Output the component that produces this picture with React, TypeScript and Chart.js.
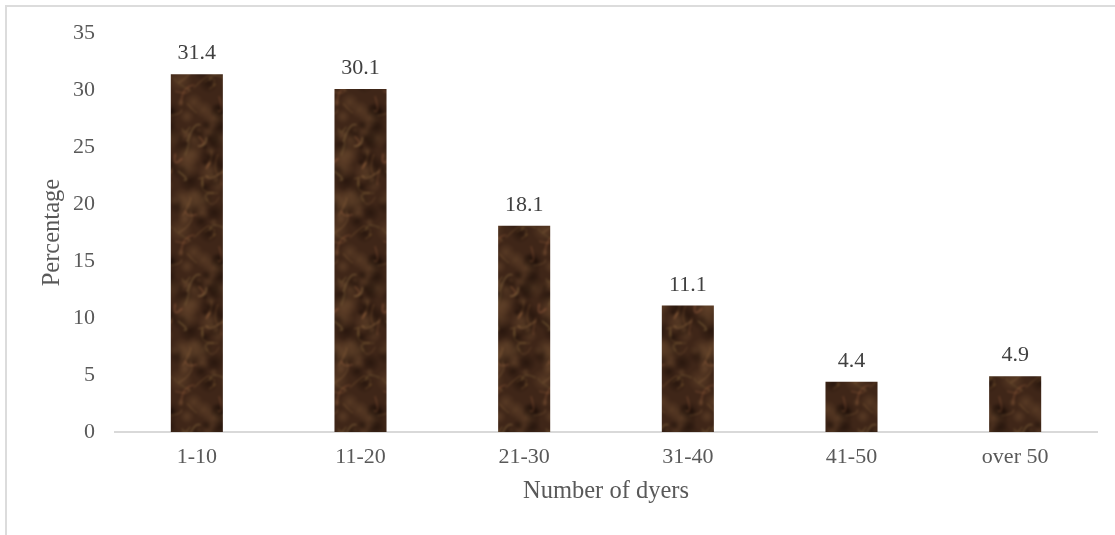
import React, { useEffect, useRef } from "react";
import { Chart, registerables } from "chart.js";

Chart.register(...registerables);

const categories = ["1-10", "11-20", "21-30", "31-40", "41-50", "over 50"];
const percentages = [31.4, 30.1, 18.1, 11.1, 4.4, 4.9];
const yTicks = [0, 5, 10, 15, 20, 25, 30, 35];

const xTitle = "Number of dyers";
const yTitle = "Percentage";

const FONT = "'Liberation Serif', 'Times New Roman', serif";
const BASE_BROWN = "#3f2618";

// deterministic hash in [0,1) used for the marble texture
function hash(n: number): number {
  const s = Math.sin(n * 12.9898 + 78.233) * 43758.5453;
  return s - Math.floor(s);
}

// seamless brown marbled fill for the bars
function makeMarble(): CanvasPattern | string {
  const w = 52;
  const h = 150;
  const base = document.createElement("canvas");
  base.width = w;
  base.height = h;
  const g = base.getContext("2d");
  if (!g) return BASE_BROWN;
  g.fillStyle = BASE_BROWN;
  g.fillRect(0, 0, w, h);

  const offsets: [number, number][] = [];
  for (const dx of [-w, 0, w]) for (const dy of [-h, 0, h]) offsets.push([dx, dy]);

  // soft light and dark blotches, wrapped so the tile repeats cleanly
  for (let i = 0; i < 60; i++) {
    const x = hash(i * 3.1) * w;
    const y = hash(i * 7.7 + 1) * h;
    const r = 3 + hash(i * 5.3 + 2) * 10;
    const light = hash(i * 2.9 + 3) > 0.55;
    for (const [dx, dy] of offsets) {
      const cx = x + dx;
      const cy = y + dy;
      const grad = g.createRadialGradient(cx, cy, 0, cx, cy, r);
      if (light) {
        grad.addColorStop(0, "rgba(125,88,55,0.40)");
        grad.addColorStop(1, "rgba(125,88,55,0)");
      } else {
        grad.addColorStop(0, "rgba(22,10,5,0.55)");
        grad.addColorStop(1, "rgba(22,10,5,0)");
      }
      g.fillStyle = grad;
      g.fillRect(cx - r, cy - r, r * 2, r * 2);
    }
  }

  // thin pale swirling veins
  for (let i = 0; i < 30; i++) {
    const x0 = hash(i * 4.1 + 10) * w;
    const y0 = hash(i * 6.3 + 11) * h;
    const x1 = x0 + (hash(i * 1.7 + 12) - 0.5) * 36;
    const y1 = y0 + (hash(i * 2.3 + 13) - 0.5) * 44;
    const mx = (x0 + x1) / 2 + (hash(i * 8.1 + 14) - 0.5) * 26;
    const my = (y0 + y1) / 2 + (hash(i * 9.7 + 15) - 0.5) * 26;
    g.strokeStyle = `rgba(${165 + Math.round(hash(i + 20) * 40)},${
      120 + Math.round(hash(i + 21) * 30)
    },82,${0.2 + hash(i + 22) * 0.28})`;
    g.lineWidth = 0.6 + hash(i + 23) * 1.1;
    for (const [dx, dy] of offsets) {
      g.beginPath();
      g.moveTo(x0 + dx, y0 + dy);
      g.quadraticCurveTo(mx + dx, my + dy, x1 + dx, y1 + dy);
      g.stroke();
    }
  }

  // lay out a 3x3 tiling first, blur it as one image, keep the centre tile
  const grid = document.createElement("canvas");
  grid.width = w * 3;
  grid.height = h * 3;
  const gg = grid.getContext("2d");
  if (!gg) return BASE_BROWN;
  for (let ix = 0; ix < 3; ix++) for (let iy = 0; iy < 3; iy++) gg.drawImage(base, ix * w, iy * h);

  const blurred = document.createElement("canvas");
  blurred.width = w * 3;
  blurred.height = h * 3;
  const bb = blurred.getContext("2d");
  if (!bb) return BASE_BROWN;
  bb.fillStyle = BASE_BROWN;
  bb.fillRect(0, 0, w * 3, h * 3);
  bb.filter = "blur(0.8px)";
  bb.drawImage(grid, 0, 0);
  bb.filter = "none";

  const tile = document.createElement("canvas");
  tile.width = w;
  tile.height = h;
  const t = tile.getContext("2d");
  if (!t) return BASE_BROWN;
  t.drawImage(blurred, w, h, w, h, 0, 0, w, h);
  const pat = t.createPattern(tile, "repeat");
  return pat || BASE_BROWN;
}

const valueLabels = {
  id: "valueLabels",
  afterDatasetsDraw(chart: Chart) {
    const ctx = chart.ctx;
    const meta = chart.getDatasetMeta(0);
    ctx.save();
    ctx.font = `22px ${FONT}`;
    ctx.fillStyle = "#404040";
    ctx.textAlign = "center";
    ctx.textBaseline = "alphabetic";
    meta.data.forEach((bar: any, i: number) => {
      ctx.fillText(percentages[i].toFixed(1), bar.x, bar.y - 15);
    });
    ctx.restore();
  },
};

export default function App() {
  const canvasRef = useRef<HTMLCanvasElement | null>(null);

  useEffect(() => {
    document.body.style.margin = "0";
    const canvas = canvasRef.current;
    if (!canvas) return;
    const marble = makeMarble();

    const chart = new Chart(canvas, {
      type: "bar",
      data: {
        labels: categories,
        datasets: [
          {
            data: percentages,
            backgroundColor: marble as any,
            borderWidth: 0,
            barPercentage: 0.318,
            categoryPercentage: 1,
          },
        ],
      },
      options: {
        responsive: false,
        animation: false,
        devicePixelRatio: 1,
        layout: { padding: { top: 33, right: 18, bottom: 0, left: 0 } },
        plugins: {
          legend: { display: false },
          tooltip: { enabled: false },
        },
        scales: {
          x: {
            grid: { display: false, drawTicks: false },
            border: { display: true, color: "#d9d9d9", width: 2 },
            ticks: {
              color: "#595959",
              font: { family: FONT, size: 22 },
              padding: 12,
              maxRotation: 0,
            },
            title: {
              display: true,
              text: xTitle,
              color: "#595959",
              font: { family: FONT, size: 24.5 },
              padding: { top: 0, bottom: 29 },
            },
            afterFit(scale: any) {
              scale.height = 103;
            },
          },
          y: {
            min: 0,
            max: 35,
            afterBuildTicks(scale: any) {
              scale.ticks = yTicks.map((v) => ({ value: v }));
            },
            grid: { display: false, drawTicks: false },
            border: { display: false },
            ticks: {
              color: "#595959",
              font: { family: FONT, size: 22 },
              padding: 20,
            },
            title: {
              display: true,
              text: yTitle,
              color: "#595959",
              font: { family: FONT, size: 24.5 },
              padding: { top: 38, bottom: 0 },
            },
            afterFit(scale: any) {
              scale.width = 115;
            },
          },
        },
      },
      plugins: [valueLabels],
    });

    return () => chart.destroy();
  }, []);

  return (
    <div
      style={{
        position: "relative",
        width: 1115,
        height: 535,
        overflow: "hidden",
        background: "#ffffff",
      }}
    >
      <div
        style={{
          position: "absolute",
          left: 5,
          top: 5,
          width: 1200,
          height: 700,
          borderLeft: "2px solid #dcdcdc",
          borderTop: "2px solid #dcdcdc",
        }}
      />
      <canvas
        ref={canvasRef}
        width={1115}
        height={535}
        style={{ position: "absolute", left: 0, top: 0, width: 1115, height: 535 }}
      />
    </div>
  );
}
